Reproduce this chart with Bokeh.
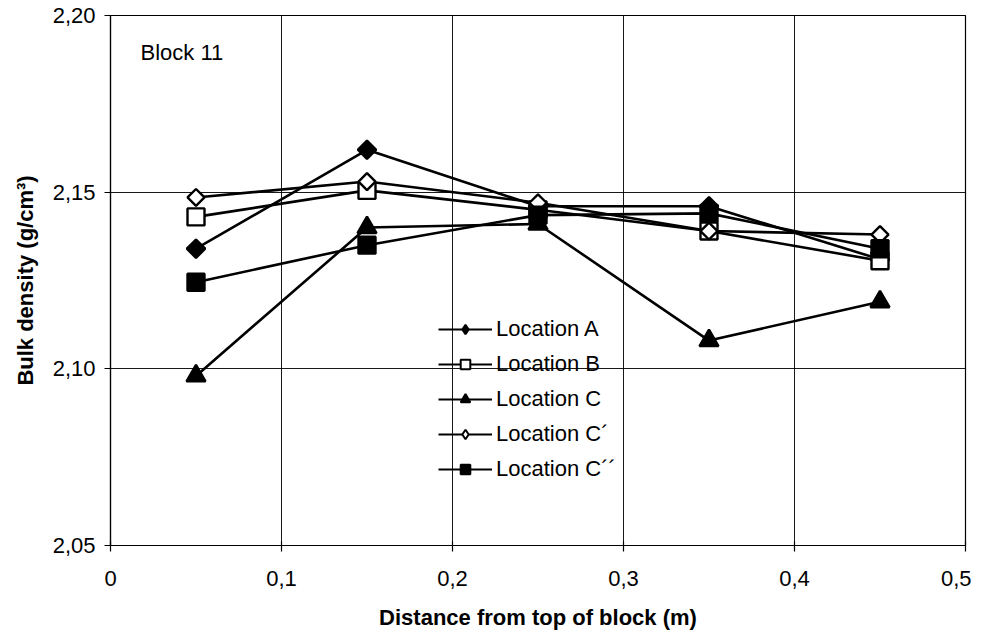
import math
from bokeh.plotting import figure
from bokeh.models import Legend, LegendItem, FixedTicker, Label
from bokeh.embed import file_html
from bokeh.resources import INLINE

distance = [0.05, 0.15, 0.25, 0.35, 0.45]
loc_a = [2.134, 2.162, 2.146, 2.146, 2.131]
loc_b = [2.143, 2.1505, 2.145, 2.139, 2.1306]
loc_c = [2.098, 2.140, 2.141, 2.108, 2.119]
loc_c1 = [2.1485, 2.153, 2.147, 2.139, 2.138]
loc_c2 = [2.1245, 2.135, 2.1435, 2.144, 2.134]

x_ticks = [0, 0.1, 0.2, 0.3, 0.4, 0.5]
x_labels = ["0", "0,1", "0,2", "0,3", "0,4", "0,5"]
y_ticks = [2.05, 2.10, 2.15, 2.20]
y_labels = ["2,05", "2,10", "2,15", "2,20"]

p = figure(frame_width=855, frame_height=530, output_backend="svg", toolbar_location=None,
           x_range=(0, 0.5), y_range=(2.05, 2.20),
           min_border_left=110, min_border_right=6, min_border_top=15, min_border_bottom=77)
p.background_fill_color = "white"
p.border_fill_color = "white"
p.outline_line_color = "black"
p.outline_line_width = 1.2

p.xaxis.ticker = FixedTicker(ticks=x_ticks)
p.yaxis.ticker = FixedTicker(ticks=y_ticks)
p.xaxis.major_label_overrides = {t: l for t, l in zip(x_ticks, x_labels)}
p.yaxis.major_label_overrides = {t: l for t, l in zip(y_ticks, y_labels)}
p.xaxis.minor_tick_line_color = None
p.yaxis.minor_tick_line_color = None
for ax in (p.xaxis, p.yaxis):
    ax.axis_line_color = "black"
    ax.axis_line_width = 1.2
    ax.major_tick_line_color = "black"
    ax.major_tick_line_width = 1.2
    ax.major_label_text_font = "Liberation Sans"
    ax.major_label_text_font_size = "22px"
    ax.major_label_text_color = "black"
    ax.axis_label_text_font = "Liberation Sans"
    ax.axis_label_text_font_style = "bold"
    ax.axis_label_text_font_size = "22px"
    ax.axis_label_text_color = "black"
p.xaxis.major_tick_out = 6
p.xaxis.major_tick_in = 4
p.yaxis.major_tick_out = 6
p.yaxis.major_tick_in = 0
p.xaxis.major_label_standoff = 19
p.yaxis.major_label_standoff = 9
p.xaxis.axis_label = "Distance from top of block (m)"
p.yaxis.axis_label = "Bulk density (g/cm\u00b3)"
p.xaxis.axis_label_standoff = 16
p.yaxis.axis_label_standoff = 12

p.xgrid.grid_line_color = "black"
p.ygrid.grid_line_color = "black"
p.xgrid.grid_line_width = 1
p.ygrid.grid_line_width = 1
p.xgrid.grid_line_alpha = 0.9
p.ygrid.grid_line_alpha = 0.9

rot = math.pi / 4
# name, values, plot marker, angle, plot size, legend marker, legend size, fill
series = [
    ("Location A", loc_a, "square", rot, 13, "diamond", 16, "black"),
    ("Location B", loc_b, "square", 0, 17, "square", 13, "white"),
    ("Location C", loc_c, "triangle", 0, 19, "triangle", 15, "black"),
    ("Location C\u00b4", loc_c1, "square", rot, 12, "diamond", 15, "white"),
    ("Location C\u00b4\u00b4", loc_c2, "square", 0, 17, "square", 13, "black"),
]
nan = float("nan")
items = []
for name, vals, marker, ang, size, lmarker, lsize, fill in series:
    p.line(distance, vals, line_color="black", line_width=2.6)
    p.scatter(distance, vals, marker=marker, size=size, angle=ang, fill_color=fill,
              line_color="black", line_width=2.4)
    # legend-only proxies (not visible in the plot) with smaller symbols
    pl = p.line([nan], [nan], line_color="black", line_width=2.2)
    ps = p.scatter([nan], [nan], marker=lmarker, size=lsize, fill_color=fill,
                   line_color="black", line_width=2)
    items.append(LegendItem(label=name, renderers=[pl, ps]))

legend = Legend(items=items, location=(328, 63), orientation="vertical")
legend.border_line_color = None
legend.background_fill_alpha = 0
legend.label_text_font = "Liberation Sans"
legend.label_text_font_size = "22px"
legend.label_text_color = "black"
legend.glyph_width = 54
legend.glyph_height = 24
legend.spacing = 9
legend.label_standoff = 4
legend.padding = 0
legend.margin = 0
p.add_layout(legend, "center")

p.add_layout(Label(x=0.0, y=2.20, x_offset=30, y_offset=-37, text="Block 11",
                   text_baseline="middle",
                   text_font="Liberation Sans", text_font_size="22px", text_color="black"))

open("out.html", "w").write(file_html(p, INLINE))
